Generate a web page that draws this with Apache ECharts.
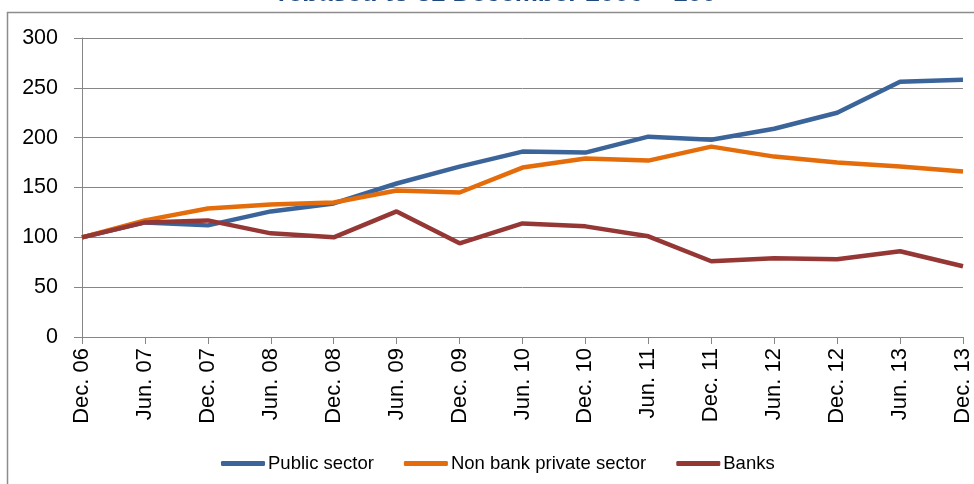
<!DOCTYPE html>
<html>
<head>
<meta charset="utf-8">
<script src="https://cdn.jsdelivr.net/npm/echarts@6/dist/echarts.min.js"></script>
<style>
html,body{margin:0;padding:0;background:#fff;}
#chart{width:974px;height:484px;}
</style>
</head>
<body>
<div id="chart"></div>
<script>
const categories = ['Dec. 06','Jun. 07','Dec. 07','Jun. 08','Dec. 08','Jun. 09','Dec. 09','Jun. 10','Dec. 10','Jun. 11','Dec. 11','Jun. 12','Dec. 12','Jun. 13','Dec. 13'];
const publicSector = [100, 115, 112, 126, 134, 154, 171, 186, 185, 201, 198, 209, 225, 256, 258];
const nonBankPrivate = [100, 117, 129, 133, 135, 147, 145, 170, 179, 177, 191, 181, 175, 171, 166];
const banks = [100, 115, 117, 104, 100, 126, 94, 114, 111, 101, 76, 79, 78, 86, 71];
const yTicks = [0, 50, 100, 150, 200, 250, 300];
const titleText = 'rebased to 31 December 2006 = 100';

const chart = echarts.init(document.getElementById('chart'));
const font = '"Liberation Sans", Arial, sans-serif';
const gridColor = '#868686';
chart.setOption({
  animation: false,
  backgroundColor: '#ffffff',
  graphic: [
    { type: 'rect', z: 0, shape: { x: 7.5, y: 12.5, width: 1000, height: 500 },
      style: { fill: 'none', stroke: '#8c8c8c', lineWidth: 1.5 } },
    { type: 'text', z: 10, x: 497, y: -19,
      style: { text: titleText, fill: '#1F497D', font: 'bold 26px "Liberation Sans", Arial, sans-serif',
               textAlign: 'center', textVerticalAlign: 'top' } }
  ],
  grid: { left: 82, right: 8, top: 38, bottom: 147, containLabel: false },
  legend: {
    left: 216, top: 449,
    itemWidth: 44, itemHeight: 5, itemGap: 30,
    icon: 'roundRect',
    textStyle: { fontFamily: font, fontSize: 18.5, color: '#000', padding: [0, 0, 0, -2] },
    data: ['Public sector', 'Non bank private sector', 'Banks']
  },
  xAxis: {
    type: 'category',
    data: categories,
    boundaryGap: false,
    axisLine: { lineStyle: { color: gridColor, width: 1 } },
    axisTick: { show: true, length: 7, inside: false, lineStyle: { color: gridColor } },
    axisLabel: { rotate: 90, margin: 11, fontFamily: font, fontSize: 22, color: '#000', interval: 0 },
    splitLine: { show: false }
  },
  yAxis: {
    type: 'value',
    min: yTicks[0], max: yTicks[yTicks.length - 1], interval: 50,
    axisLine: { show: true, lineStyle: { color: gridColor, width: 1 } },
    axisTick: { show: true, length: 8, lineStyle: { color: gridColor } },
    axisLabel: { margin: 24, fontFamily: font, fontSize: 21.5, color: '#000' },
    splitLine: { show: true, lineStyle: { color: gridColor, width: 1 } }
  },
  series: [
    { name: 'Public sector', type: 'line', data: publicSector, showSymbol: false, symbol: 'none',
      itemStyle: { color: '#3B659A' }, lineStyle: { color: '#3B659A', width: 4.5 }, z: 3 },
    { name: 'Non bank private sector', type: 'line', data: nonBankPrivate, showSymbol: false, symbol: 'none',
      itemStyle: { color: '#E46C0A' }, lineStyle: { color: '#E46C0A', width: 4.5 }, z: 4 },
    { name: 'Banks', type: 'line', data: banks, showSymbol: false, symbol: 'none',
      itemStyle: { color: '#953735' }, lineStyle: { color: '#953735', width: 4.5 }, z: 5 }
  ]
});
</script>
</body>
</html>
